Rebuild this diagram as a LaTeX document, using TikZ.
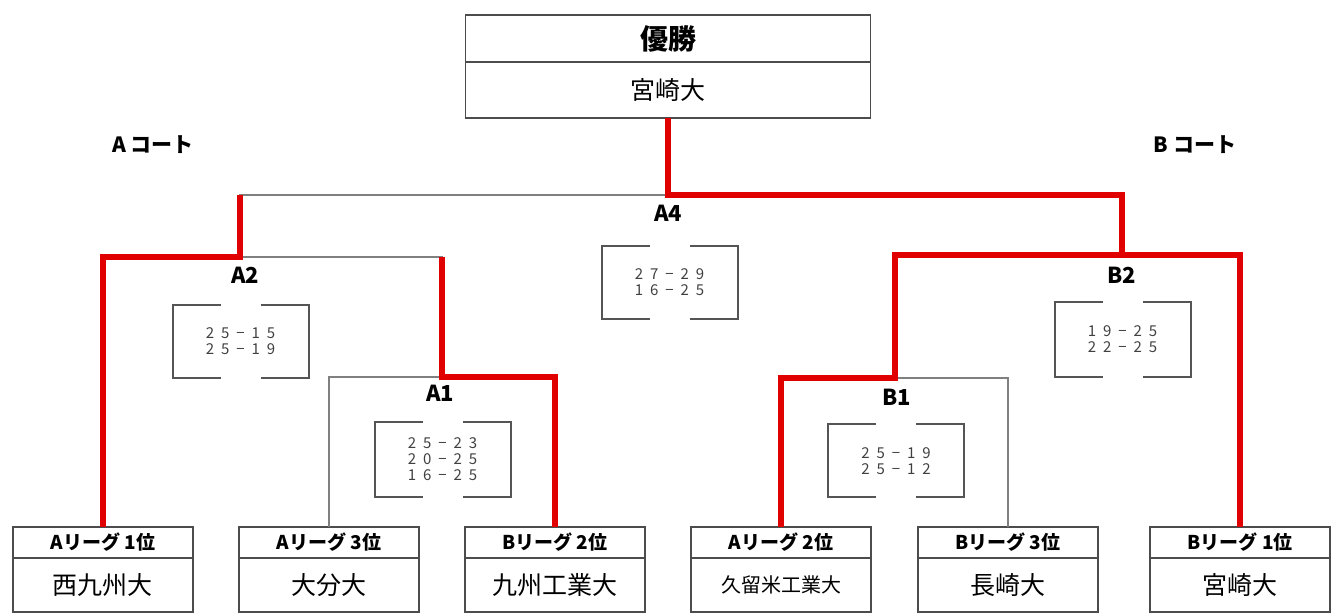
\documentclass[tikz,border=0pt]{standalone}
\usepackage{fontspec}
\setmainfont{Noto Sans CJK JP}
\newfontfamily\scorefont{Noto Sans CJK JP}[LetterSpace=24]
\usetikzlibrary{positioning,calc}
\definecolor{winred}{HTML}{E00000}
\definecolor{bracketgray}{HTML}{555555}
\tikzset{
  path/.style={
    draw = black!50,
    line width = 0.8pt
  },
  win/.style={
    draw = winred,
    line width = 2.6pt
  },
  cell/.style={
    draw = black!70,
    line width = 0.7pt,
    shape = rectangle,
    inner sep = 0pt,
    outer sep = 0pt
  },
  league/.style={
    cell,
    minimum width = 90pt,
    minimum height = 15.5pt,
    font = \fontsize{9.5}{11}\selectfont\bfseries
  },
  team/.style={
    cell,
    minimum width = 90pt,
    minimum height = 27pt,
    font = \fontsize{12.5}{14}\selectfont
  },
  score/.style={
    inner sep = 0pt,
    outer sep = 0pt,
    minimum width = 68pt,
    minimum height = 36.5pt,
    align = center,
    text = black!75,
    font = \scorefont\fontsize{7.5}{8}\selectfont
  },
  match/.style={
    font = \fontsize{11}{13}\selectfont\bfseries,
    inner sep = 0pt
  },
  court/.style={
    font = \fontsize{10.5}{12}\selectfont\bfseries,
    inner sep = 0pt
  },
  bracket/.style={
    draw = bracketgray,
    line width = 1pt
  }
}
\begin{document}
\begin{tikzpicture}[x=0.5pt,y=-0.5pt]
\useasboundingbox (0,0) rectangle (1335,614);
% champion
\node[cell, minimum width=202.5pt, minimum height=23.5pt, font=\fontsize{14}{16}\selectfont\bfseries] (title) at (668,38.5) {優勝};
\node[cell, minimum width=202.5pt, minimum height=28pt, font=\fontsize{12.5}{14}\selectfont, below=0pt of title] (champ) {宮崎大};
\node[court] (courtA) at (153,145) {A コート};
\node[court] (courtB) at (1195,145) {B コート};
% teams
\foreach \i/\x/\lg/\tm in {1/103/Aリーグ 1位/西九州大,
    2/329/Aリーグ 3位/大分大,
    3/555/Bリーグ 2位/九州工業大,
    4/781/Aリーグ 2位/{\fontsize{10}{12}\selectfont 久留米工業大},
    5/1008/Bリーグ 3位/長崎大,
    6/1240/Bリーグ 1位/宮崎大}{
  \node[league] (lg\i) at (\x,542.5) {\lg};
  \node[team, below=0pt of lg\i] (tm\i) {\tm};
}
% matches
\coordinate (mA4) at (668,195);
\coordinate (mA2) at (240,257);
\coordinate (mA1) at (442,377);
\coordinate (mB2) at (1122,255);
\coordinate (mB1) at (895,378);
\node[match] (lA4) at (668,213) {A4};
\node[match] (lA2) at (245,275) {A2};
\node[match] (lA1) at (440,393) {A1};
\node[match] (lB1) at (897,397) {B1};
\node[match] (lB2) at (1122,275) {B2};
\node[score] (sA4) at (669.5,282.5) {2 7 − 2 9\\1 6 − 2 5};
\node[score] (sA2) at (240.5,341.5) {2 5 − 1 5\\2 5 − 1 9};
\node[score, minimum height=37.5pt] (sA1) at (442.5,459.5) {2 5 − 2 3\\2 0 − 2 5\\1 6 − 2 5};
\node[score] (sB1) at (896,461) {2 5 − 1 9\\2 5 − 1 2};
\node[score, minimum height=37.5pt] (sB2) at (1122.5,339.5) {1 9 − 2 5\\2 2 − 2 5};
\foreach \s in {sA4,sA2,sA1,sB1,sB2}{
  \draw[bracket] ([xshift=24pt]\s.north west) -- (\s.north west) -- (\s.south west) -- ([xshift=24pt]\s.south west);
  \draw[bracket] ([xshift=-24pt]\s.north east) -- (\s.north east) -- (\s.south east) -- ([xshift=-24pt]\s.south east);
}
% tree
\draw[path] (champ.south) -- (mA4);
\draw[path] (mA2) |- (mA4) -| (mB2);
\draw[path] (lg1.north) |- (mA1 |- mA2) -- (mA1);
\draw[path] (lg2.north) |- (lg3.north |- mA1) -- (lg3.north);
\draw[path] (lg4.north) |- (lg5.north |- mB1) -- (lg5.north);
\draw[path] (lg6.north) |- (mB1 |- mB2) -- (mB1);
% winners
\draw[win] (lg1.north) |- (mA2) -- (mA2 |- mA4);
\draw[win] (lg3.north) |- (mA1) -- (mA1 |- mA2);
\draw[win] (champ.south) |- (mA4) -| (mB2);
\draw[win] (lg6.north) |- (mB1 |- mB2) -- (mB1) -| (lg4.north);
\end{tikzpicture}
\end{document}
